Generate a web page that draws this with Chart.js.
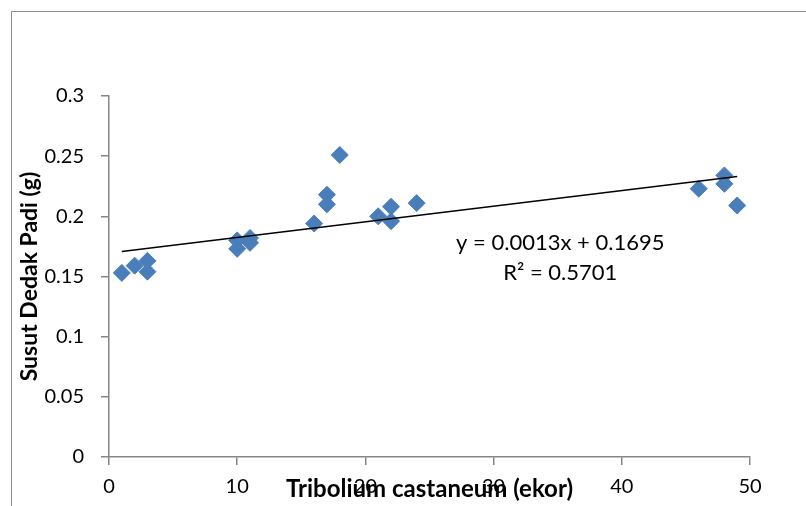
<!DOCTYPE html>
<html>
<head>
<meta charset="utf-8">
<script src="https://cdn.jsdelivr.net/npm/chart.js@4/dist/chart.umd.min.js"></script>
<style>
  html, body { margin: 0; padding: 0; background: #ffffff; }
  #wrap { width: 806px; height: 506px; position: relative; }
</style>
</head>
<body>
<div id="wrap"><canvas id="c" width="806" height="506"></canvas></div>
<script>
// ---- data ----
const xValues = [1, 2, 3, 3, 10, 10, 11, 11, 16, 17, 17, 18, 21, 22, 22, 24, 46, 48, 48, 49];
const yValues = [0.153, 0.159, 0.163, 0.154, 0.180, 0.173, 0.182, 0.178, 0.194, 0.218, 0.210, 0.251, 0.200, 0.208, 0.196, 0.211, 0.223, 0.234, 0.227, 0.209];
const trendCoef = [0.0013, 0.1695];      // slope, intercept (from the chart label)
const trendRange = [1, 49];              // x extent of the trendline
const yTickLabels = ['0', '0.05', '0.1', '0.15', '0.2', '0.25', '0.3'];
const xTickLabels = ['0', '10', '20', '30', '40', '50'];
const xTitle = 'Tribolium castaneum (ekor)';
const yTitle = 'Susut Dedak Padi (g)';
const eqLines = ['y = 0.0013x + 0.1695', 'R² = 0.5701'];
const eqAnchor = [35.2, 0.178, 0.153];   // x value, y value of line 1, y value of line 2

const FONT = 'Lato, "Open Sans", sans-serif';
const axisGray = '#868686';
const pointBlue = '#4A7EBB';

const scatterPts = xValues.map((x, i) => ({ x: x, y: yValues[i] }));
const trendPts = trendRange.map(x => ({ x: x, y: trendCoef[0] * x + trendCoef[1] }));

const decor = {
  id: 'decor',
  beforeDraw(chart) {
    const ctx = chart.ctx;
    ctx.save();
    ctx.strokeStyle = '#8e8e8e';
    ctx.lineWidth = 1;
    ctx.strokeRect(11.5, 11.5, 830, 530);
    ctx.restore();
  },
  afterDraw(chart) {
    const ctx = chart.ctx;
    const xs = chart.scales.x, ys = chart.scales.y;
    const area = chart.chartArea;
    ctx.save();
    ctx.fillStyle = '#000';
    // x axis title
    ctx.font = 'bold 24px ' + FONT;
    ctx.textAlign = 'center';
    ctx.textBaseline = 'alphabetic';
    ctx.fillText(xTitle, (area.left + area.right) / 2, area.bottom + 40);
    // y axis title
    ctx.save();
    ctx.translate(37, (area.top + area.bottom) / 2);
    ctx.rotate(-Math.PI / 2);
    ctx.font = 'bold 23px ' + FONT;
    ctx.fillText(yTitle, 0, 0);
    ctx.restore();
    // trend equation
    ctx.font = '22px ' + FONT;
    ctx.textBaseline = 'middle';
    ctx.fillText(eqLines[0], xs.getPixelForValue(eqAnchor[0]), ys.getPixelForValue(eqAnchor[1]));
    ctx.fillText(eqLines[1], xs.getPixelForValue(eqAnchor[0]), ys.getPixelForValue(eqAnchor[2]));
    ctx.restore();
  }
};

new Chart(document.getElementById('c'), {
  type: 'scatter',
  data: {
    datasets: [
      {
        type: 'line',
        data: trendPts,
        borderColor: '#000000',
        borderWidth: 1.5,
        pointRadius: 0,
        fill: false,
        order: 0
      },
      {
        data: scatterPts,
        pointStyle: 'rectRot',
        pointRadius: 8.5,
        pointHoverRadius: 8.5,
        backgroundColor: pointBlue,
        borderColor: pointBlue,
        borderWidth: 1,
        order: 1
      }
    ]
  },
  options: {
    responsive: false,
    animation: false,
    devicePixelRatio: 1,
    layout: { padding: { top: 96, right: 56, bottom: 0, left: 0 } },
    plugins: { legend: { display: false }, tooltip: { enabled: false } },
    scales: {
      x: {
        type: 'linear',
        min: 0, max: 50,
        afterFit(s) { s.height = 49; },
        ticks: {
          stepSize: 10,
          padding: 10,
          color: '#000',
          font: { family: FONT, size: 20 },
          callback: (v, i) => xTickLabels[i]
        },
        grid: { drawOnChartArea: false, drawTicks: true, tickLength: 8, color: axisGray, lineWidth: 1.5 },
        border: { display: true, color: axisGray, width: 1.5 }
      },
      y: {
        type: 'linear',
        min: 0, max: 0.3,
        afterFit(s) { s.width = 109; },
        ticks: {
          stepSize: 0.05,
          padding: 17,
          color: '#000',
          font: { family: FONT, size: 20 },
          callback: (v, i) => yTickLabels[i]
        },
        grid: { drawOnChartArea: false, drawTicks: true, tickLength: 8, color: axisGray, lineWidth: 1.5 },
        border: { display: true, color: axisGray, width: 1.5 }
      }
    }
  },
  plugins: [decor]
});
</script>
</body>
</html>
